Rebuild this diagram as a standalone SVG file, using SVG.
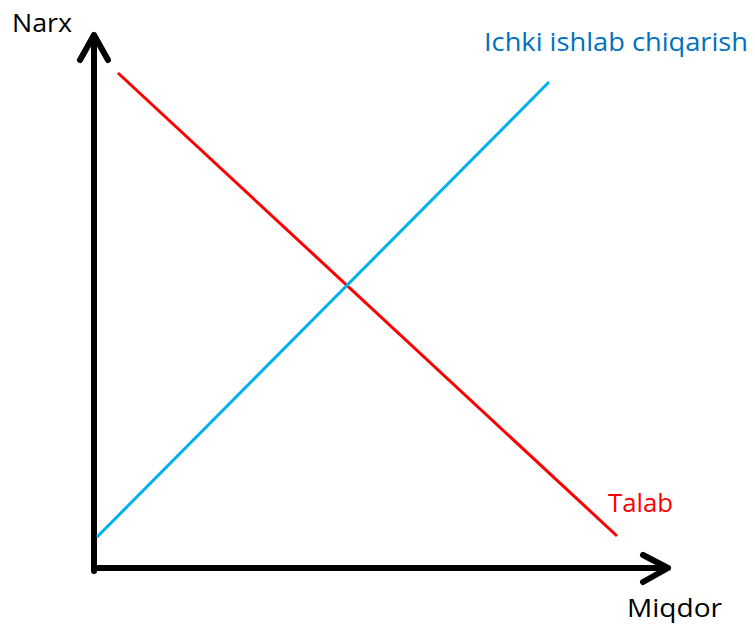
<svg xmlns="http://www.w3.org/2000/svg" width="755" height="626" viewBox="0 0 755 626">
<style>
.lbl{font-family:"Open Sans","Liberation Sans",Arial,sans-serif;font-size:25px}
.axis{stroke:#000;stroke-width:6;fill:none;stroke-linecap:round;stroke-linejoin:round}
</style>
<rect width="755" height="626" fill="#fff"/>
<g id="axes">
<path class="axis" d="M94,571 L94,35 M80,60 L94,35 L108,60"/>
<path class="axis" d="M94,568 L668,568 M643,555 L668,568 L643,582"/>
</g>
<g id="connectors">
<line id="demand" x1="118" y1="73" x2="617" y2="536" stroke="#FF0000" stroke-width="3"/>
<line id="supply" x1="97" y1="537" x2="549" y2="82" stroke="#00B0F0" stroke-width="3"/>
</g>
<g id="labels">
<text class="lbl" x="12" y="32" textLength="60" lengthAdjust="spacingAndGlyphs">Narx</text>
<text class="lbl" x="484" y="51" fill="#0070C0" textLength="264" lengthAdjust="spacingAndGlyphs">Ichki ishlab chiqarish</text>
<text class="lbl" x="608" y="512" fill="#FF0000" textLength="65" lengthAdjust="spacingAndGlyphs">Talab</text>
<text class="lbl" x="627" y="617" textLength="95" lengthAdjust="spacingAndGlyphs">Miqdor</text>
</g>
</svg>
